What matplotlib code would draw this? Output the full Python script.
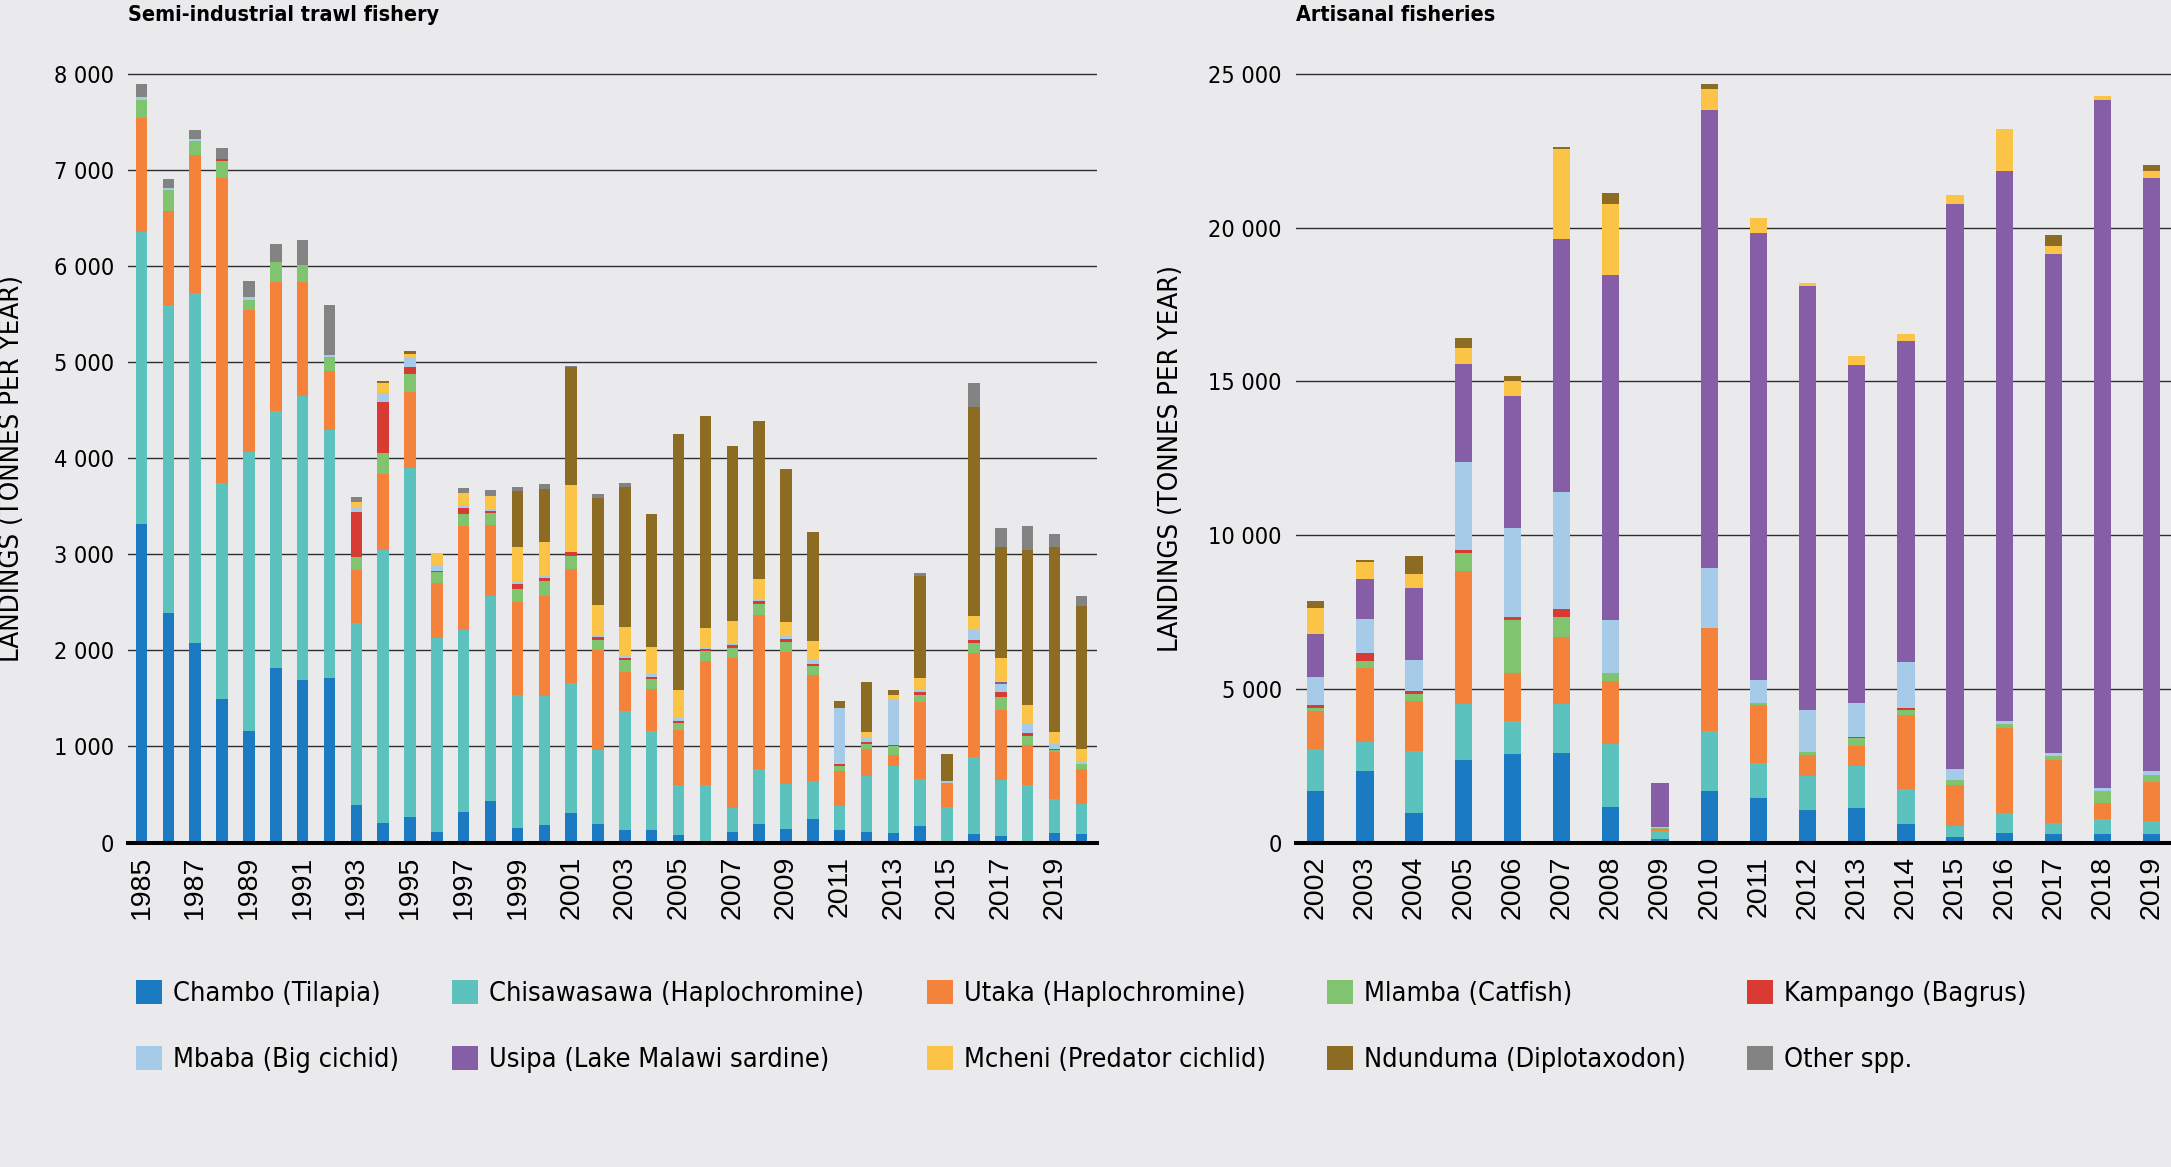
import matplotlib
matplotlib.use("Agg")
import matplotlib.pyplot as plt
from matplotlib import font_manager as fm
from matplotlib.patches import Patch
import numpy as np

W, H, DPI = 2171, 1167, 100

# ---------------- data ----------------
species = ["Chambo (Tilapia)", "Chisawasawa (Haplochromine)", "Utaka (Haplochromine)",
           "Mlamba (Catfish)", "Kampango (Bagrus)", "Mbaba (Big cichid)",
           "Usipa (Lake Malawi sardine)", "Mcheni (Predator cichlid)",
           "Ndunduma (Diplotaxodon)", "Other spp."]
colors = ["#1a7bc2", "#5bc2bd", "#f5823a", "#80c46f", "#d83b33",
          "#a5cbe9", "#855ea7", "#fcc446", "#8b6c22", "#838383"]

trawl_years = [1985, 1986, 1987, 1988, 1989, 1990, 1991, 1992, 1993, 1994, 1995, 1996,
               1997, 1998, 1999, 2000, 2001, 2002, 2003, 2004, 2005, 2006, 2007, 2008,
               2009, 2010, 2011, 2012, 2013, 2014, 2015, 2016, 2017, 2018, 2019, 2020]
trawl_ticks = [1985, 1987, 1989, 1991, 1993, 1995, 1997, 1999, 2001, 2003, 2005, 2007,
               2009, 2011, 2013, 2015, 2017, 2019]
trawl_chambo = [3320, 2390, 2080, 1490, 1160, 1820, 1690, 1710, 390, 200, 270, 106,
                320, 434, 150, 180, 310, 190, 128, 128, 83, 10, 113, 196,
                140, 245, 130, 106, 100, 170, 0, 87, 70, 0, 94, 90]
trawl_chisawasawa = [3040, 3210, 3640, 2250, 2900, 2670, 2960, 2580, 1900, 2840, 3630, 2020,
                     1895, 2136, 1390, 1350, 1350, 770, 1238, 1032, 517, 590, 247, 574,
                     470, 395, 250, 584, 700, 490, 366, 800, 580, 600, 356, 310]
trawl_utaka = [1180, 970, 1440, 3180, 1480, 1340, 1180, 620, 550, 800, 790, 575,
               1075, 740, 965, 1036, 1190, 1040, 404, 440, 570, 1290, 1565, 1600,
               1370, 1100, 360, 280, 110, 800, 254, 1083, 730, 420, 490, 370]
trawl_mlamba = [190, 220, 140, 170, 110, 210, 180, 140, 130, 210, 185, 110,
                130, 120, 135, 159, 130, 110, 135, 100, 75, 100, 95, 110,
                110, 100, 60, 60, 90, 75, 0, 105, 130, 90, 20, 50]
trawl_kampango = [0, 0, 0, 20, 0, 0, 0, 0, 475, 540, 75, 20,
                  60, 20, 50, 30, 40, 30, 20, 20, 25, 20, 40, 30,
                  30, 20, 20, 15, 10, 30, 0, 35, 60, 30, 10, 0]
trawl_mbaba = [30, 20, 20, 0, 30, 0, 0, 30, 35, 90, 90, 60,
               30, 20, 30, 15, 0, 20, 25, 30, 30, 20, 20, 30,
               30, 45, 580, 45, 470, 20, 20, 100, 80, 105, 60, 30]
trawl_usipa = [0, 0, 0, 0, 0, 0, 0, 0, 0, 0, 0, 0,
               0, 0, 0, 0, 0, 0, 0, 0, 0, 0, 0, 0,
               0, 0, 0, 0, 0, 0, 0, 0, 20, 0, 0, 0]
trawl_mcheni = [0, 0, 0, 0, 0, 0, 0, 0, 60, 100, 50, 120,
                130, 140, 355, 360, 700, 310, 290, 280, 285, 200, 230, 200,
                150, 195, 0, 60, 60, 125, 0, 150, 250, 185, 120, 120]
trawl_ndunduma = [0, 0, 0, 0, 0, 0, 0, 0, 0, 20, 30, 0,
                  0, 0, 585, 550, 1230, 1115, 1465, 1385, 2665, 2210, 1820, 1650,
                  1590, 1130, 70, 520, 50, 1060, 285, 2170, 1155, 1615, 1925, 1490]
trawl_other = [140, 100, 100, 120, 160, 190, 260, 520, 60, 0, 0, 0,
               50, 60, 40, 50, 10, 45, 35, 0, 0, 0, 0, 0,
               0, 0, 0, 0, 0, 40, 0, 255, 195, 245, 135, 110]

art_years = [2002, 2003, 2004, 2005, 2006, 2007, 2008, 2009, 2010,
             2011, 2012, 2013, 2014, 2015, 2016, 2017, 2018, 2019]
art_chambo = [1680, 2340, 955, 2700, 2880, 2920, 1170, 130, 1680,
              1440, 1045, 1120, 610, 180, 310, 290, 290, 290]
art_chisawasawa = [1350, 940, 2015, 1800, 1080, 1570, 2040, 230, 1960,
                   1140, 1115, 1370, 1140, 360, 640, 360, 480, 410]
art_utaka = [1240, 2400, 1620, 4330, 1540, 2210, 2050, 90, 3330,
             1890, 690, 660, 2390, 1320, 2780, 2050, 510, 1280]
art_mlamba = [110, 230, 240, 580, 1740, 630, 240, 20, 0,
              70, 90, 240, 180, 160, 110, 110, 400, 220]
art_kampango = [90, 250, 90, 100, 80, 260, 0, 0, 0,
                0, 0, 30, 60, 0, 0, 0, 0, 0]
art_mbaba = [900, 1120, 1010, 2870, 2900, 3820, 1730, 30, 1950,
             740, 1380, 1120, 1480, 380, 120, 110, 90, 140]
art_usipa = [1420, 1300, 2360, 3190, 4320, 8210, 11240, 1450, 14900,
             14540, 13790, 10990, 10450, 18360, 17900, 16220, 22370, 19280]
art_mcheni = [830, 560, 430, 520, 470, 2940, 2300, 0, 680,
              490, 90, 290, 230, 290, 1350, 250, 150, 220]
art_ndunduma = [220, 50, 610, 310, 180, 50, 350, 0, 180,
                0, 0, 0, 0, 0, 0, 360, 0, 200]
art_other = [0, 0, 0, 0, 0, 0, 0, 0, 0,
             0, 0, 0, 0, 0, 0, 0, 0, 0]

trawl_series = [trawl_chambo, trawl_chisawasawa, trawl_utaka, trawl_mlamba, trawl_kampango,
                trawl_mbaba, trawl_usipa, trawl_mcheni, trawl_ndunduma, trawl_other]
art_series = [art_chambo, art_chisawasawa, art_utaka, art_mlamba, art_kampango,
              art_mbaba, art_usipa, art_mcheni, art_ndunduma, art_other]

trawl_yticks = [0, 1000, 2000, 3000, 4000, 5000, 6000, 7000, 8000]
art_yticks = [0, 5000, 10000, 15000, 20000, 25000]

title_left = "Semi-industrial trawl fishery"
title_right = "Artisanal fisheries"
ylabel_text = "LANDINGS (TONNES PER YEAR)"

# ---------------- fonts ----------------
names = {f.name for f in fm.fontManager.ttflist}
if "Liberation Sans Narrow" in names:
    NARROW = dict(family="Liberation Sans Narrow")
    NS = 1.0
else:
    NARROW = dict(family="DejaVu Sans", stretch="condensed")
    NS = 0.84
REG = dict(family="Liberation Sans")

BG = "#eaeaec"

fig = plt.figure(figsize=(W / DPI, H / DPI), dpi=DPI, facecolor=BG)


def fx(px):
    return px / W


def fy(py):
    return 1 - py / H


def fmt(v):
    return f"{v:,}".replace(",", " ")


def make_axes(x0, x1, top_val, ymax, y_top_px=74.0, y0_px=842.5):
    ppu = (y0_px - y_top_px) / top_val
    top_px = y0_px - ppu * ymax
    ax = fig.add_axes([fx(x0), fy(y0_px), fx(x1) - fx(x0), (y0_px - top_px) / H])
    ax.set_facecolor(BG)
    return ax


def style(ax, yticks, xticks, barw, years, series):
    bottom = np.zeros(len(years))
    for vals, col, name in zip(series, colors, species):
        ax.bar(years, vals, width=barw, bottom=bottom, color=col, linewidth=0,
               zorder=2, label=name)
        bottom += np.array(vals, dtype=float)
    for s in ["top", "left", "right"]:
        ax.spines[s].set_visible(False)
    ax.spines["bottom"].set_linewidth(2.9)
    ax.spines["bottom"].set_color("black")
    ax.spines["bottom"].set_zorder(3)
    ax.set_yticks(yticks)
    ax.set_yticklabels([fmt(v) for v in yticks], fontsize=20 * NS, **NARROW)
    ax.set_xticks(xticks)
    ax.set_xticklabels([str(v) for v in xticks], rotation=90, fontsize=20.5, **REG)
    ax.tick_params(axis="y", length=0, pad=10)
    ax.tick_params(axis="x", length=0, pad=9.5)
    ax.yaxis.grid(True, color="#2e2e2e", linewidth=1.0, zorder=0)
    ax.set_axisbelow(True)


# left panel
ax1 = make_axes(128.3, 1096.7, 8000, 8060)
ax1.set_xlim(1984.51, 2020.57)
ax1.set_ylim(0, 8060)
style(ax1, trawl_yticks, trawl_ticks, 0.43, trawl_years, trawl_series)

# right panel
ax2 = make_axes(1295.7, W + 0.0, 25000, 25180)
ax2.set_xlim(2001.593, 2019.39)
ax2.set_ylim(0, 25180)
style(ax2, art_yticks, art_years, 0.35, art_years, art_series)

# titles
fig.text(fx(128.3), fy(21), title_left, ha="left", va="baseline",
         fontsize=20 * NS * 0.915, fontweight="bold", **NARROW)
fig.text(fx(1295.7), fy(21), title_right, ha="left", va="baseline",
         fontsize=20 * NS * 0.915, fontweight="bold", **NARROW)

# y labels
fig.text(fx(12), fy(468), ylabel_text, rotation=90, ha="center", va="center",
         fontsize=22 * NS * 1.07, **NARROW)
fig.text(fx(1171), fy(458), ylabel_text, rotation=90, ha="center", va="center",
         fontsize=22 * NS * 1.07, **NARROW)

# legend: five columns of two entries
leg_fs = 22.5 * NS * 1.03
prop = fm.FontProperties(size=leg_fs, **NARROW)
em_px = leg_fs * DPI / 72.0
col_x = [136, 452, 927, 1327, 1747]
for c in range(5):
    idx = [c, c + 5]
    handles = [Patch(facecolor=colors[i], edgecolor="none") for i in idx]
    labels = [species[i] for i in idx]
    fig.legend(handles, labels, loc="upper left",
               bbox_to_anchor=(fx(col_x[c]), fy(980)),
               bbox_transform=fig.transFigure, frameon=False, prop=prop,
               borderpad=0, borderaxespad=0,
               handlelength=26 / em_px, handleheight=26 / em_px,
               handletextpad=11 / em_px, labelspacing=1.45)

fig.savefig("out.png", dpi=DPI, facecolor=BG)
